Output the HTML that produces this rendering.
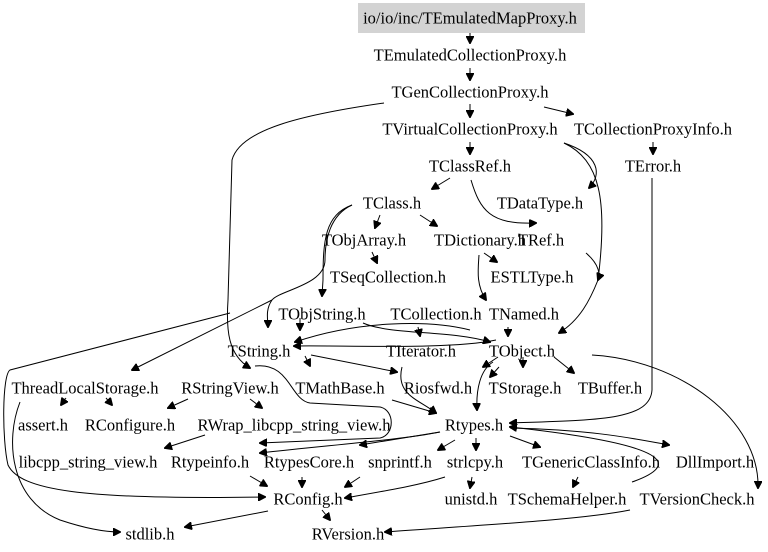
<!DOCTYPE html>
<html><head><meta charset="utf-8"><style>
body{margin:0;background:#fff}
svg{display:block}
text{font-family:"Liberation Serif",serif;font-size:16.5px;fill:#000;text-anchor:middle;dominant-baseline:central}
path{fill:none;stroke:#000;stroke-width:1}
</style></head><body>
<svg width="768" height="552" viewBox="0 0 768 552">
<defs><marker id="a" markerWidth="8" markerHeight="8" refX="7" refY="4" orient="auto" markerUnits="userSpaceOnUse"><path d="M0,0 L8,4 L0,8 Z" style="fill:#000;stroke:#000"/></marker></defs>
<rect x="358" y="3" width="227" height="30" fill="#d3d3d3"/>
<g marker-end="url(#a)">
<path d="M470,33 L470,43"/>
<path d="M470,68 L470,80"/>
<path d="M470,104 L470,117"/>
<path d="M544,107 L573,114"/>
<path d="M470,142 L470,154"/>
<path d="M653,142 L653,154"/>
<path d="M450,178 L432,189"/>
<path d="M564,143 C600,155 602,175 589,188"/>
<path d="M471,180 C480,210 490,225 536,223"/>
<path d="M380,215 L375,228"/>
<path d="M420,215 L437,226"/>
<path d="M372,252 L377,263"/>
<path d="M484,253 L497,262"/>
<path d="M479,255 C478,270 476,285 486,300"/>
<path d="M564,143 C600,160 608,200 598,280 C590,300 580,320 559,333"/>
<path d="M586,253 C600,265 600,275 598,280"/>
<path d="M352,205 C325,215 323,240 323,280 L322,296"/>
<path d="M352,205 C330,215 325,240 325,260 C325,285 280,290 272,300 C265,310 268,320 268,327"/>
<path d="M272,300 L132,370"/>
<path d="M384,103 C300,115 240,130 232,160 L228,300 C226,330 228,355 250,368"/>
<path d="M255,366 C290,362 290,400 310,403 L380,407 C395,410 395,435 380,438 L260,443"/>
<path d="M230,313 L10,370 C2,375 2,440 8,465 C20,490 80,500 265,497"/>
<path d="M20,402 C5,440 10,500 60,520 C90,530 110,532 120,532"/>
<path d="M300,318 L300,330"/>
<path d="M418,327 L420,336"/>
<path d="M508,327 L508,336"/>
<path d="M363,323 C390,335 450,330 490,342"/>
<path d="M470,330 C430,320 360,320 295,342"/>
<path d="M496,340 C450,350 340,345 294,346"/>
<path d="M305,356 L310,366"/>
<path d="M311,355 L397,372"/>
<path d="M498,357 L483,367"/>
<path d="M523,357 L523,367"/>
<path d="M554,357 L574,373"/>
<path d="M592,355 C680,360 760,420 758,488"/>
<path d="M493,362 C480,370 476,390 477,410"/>
<path d="M499,367 L490,377"/>
<path d="M66,398 L61,405"/>
<path d="M106,398 L112,405"/>
<path d="M188,399 L168,408"/>
<path d="M250,399 L262,408"/>
<path d="M402,367 C395,395 420,400 436,413"/>
<path d="M392,400 L436,413"/>
<path d="M652,178 L652,390 C650,420 600,420 510,423"/>
<path d="M440,432 C400,440 330,445 260,453"/>
<path d="M440,432 L360,445"/>
<path d="M455,440 L438,450"/>
<path d="M476,438 L476,450"/>
<path d="M510,436 L540,447"/>
<path d="M510,428 C600,430 640,440 669,445"/>
<path d="M632,482 C680,465 675,445 510,427"/>
<path d="M205,435 L165,448"/>
<path d="M250,476 L267,486"/>
<path d="M302,477 L302,487"/>
<path d="M360,477 L345,487"/>
<path d="M445,477 C420,485 390,490 345,498"/>
<path d="M472,477 L470,488"/>
<path d="M578,477 L573,487"/>
<path d="M630,510 C580,520 480,525 385,532"/>
<path d="M268,511 L185,527"/>
<path d="M322,510 L330,520"/>
</g>
<text x="470" y="18">io/io/inc/TEmulatedMapProxy.h</text>
<text x="470" y="55">TEmulatedCollectionProxy.h</text>
<text x="470" y="92">TGenCollectionProxy.h</text>
<text x="470" y="129">TVirtualCollectionProxy.h</text>
<text x="653" y="129">TCollectionProxyInfo.h</text>
<text x="470" y="166">TClassRef.h</text>
<text x="653" y="166">TError.h</text>
<text x="392" y="203">TClass.h</text>
<text x="540" y="203">TDataType.h</text>
<text x="364" y="240">TObjArray.h</text>
<text x="480" y="240">TDictionary.h</text>
<text x="541" y="240">TRef.h</text>
<text x="388" y="277">TSeqCollection.h</text>
<text x="532" y="277">ESTLType.h</text>
<text x="322" y="314">TObjString.h</text>
<text x="436" y="314">TCollection.h</text>
<text x="524" y="314">TNamed.h</text>
<text x="259" y="351">TString.h</text>
<text x="421" y="351">TIterator.h</text>
<text x="522" y="351">TObject.h</text>
<text x="85" y="388">ThreadLocalStorage.h</text>
<text x="230" y="388">RStringView.h</text>
<text x="340" y="388">TMathBase.h</text>
<text x="438" y="388">Riosfwd.h</text>
<text x="525" y="388">TStorage.h</text>
<text x="610" y="388">TBuffer.h</text>
<text x="43" y="425">assert.h</text>
<text x="130" y="425">RConfigure.h</text>
<text x="294" y="425">RWrap_libcpp_string_view.h</text>
<text x="474" y="425">Rtypes.h</text>
<text x="88" y="462">libcpp_string_view.h</text>
<text x="210" y="462">Rtypeinfo.h</text>
<text x="309" y="462">RtypesCore.h</text>
<text x="400" y="462">snprintf.h</text>
<text x="475" y="462">strlcpy.h</text>
<text x="591" y="462">TGenericClassInfo.h</text>
<text x="715" y="462">DllImport.h</text>
<text x="308" y="499">RConfig.h</text>
<text x="471" y="499">unistd.h</text>
<text x="567" y="499">TSchemaHelper.h</text>
<text x="697" y="499">TVersionCheck.h</text>
<text x="150" y="534">stdlib.h</text>
<text x="348" y="534">RVersion.h</text>
</svg>
</body></html>
